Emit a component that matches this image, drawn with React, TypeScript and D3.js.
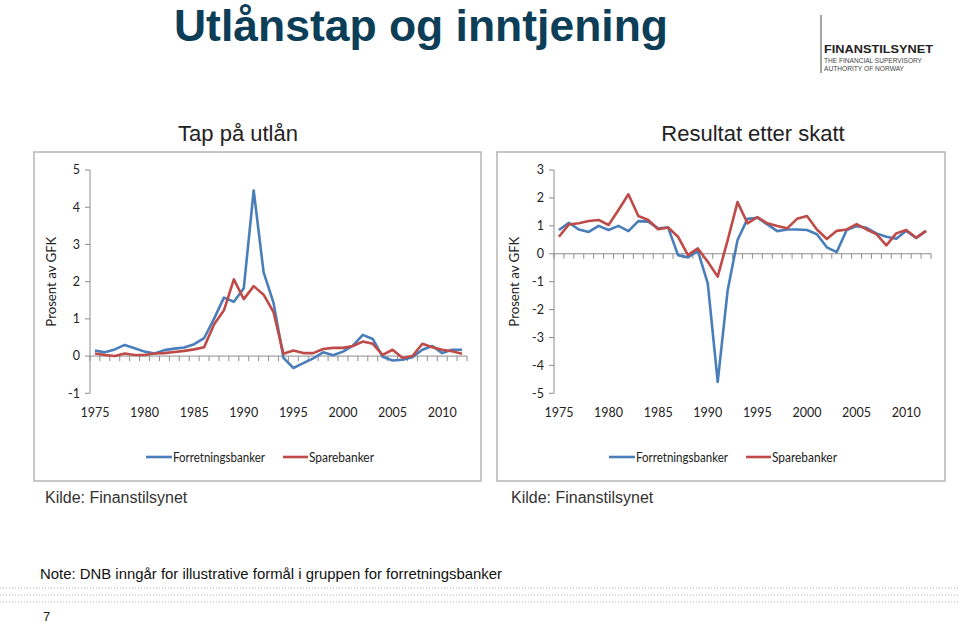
import React from "react";
import * as d3 from "d3";

const years: number[] = d3.range(1975, 2013);

const tapForretning: number[] = [
  0.15, 0.1, 0.18, 0.3, 0.21, 0.12, 0.07, 0.16, 0.2, 0.23, 0.32, 0.48, 1.0, 1.57, 1.46, 1.82, 4.45, 2.25, 1.43,
  -0.05, -0.32, -0.19, -0.06, 0.1, 0.02, 0.12, 0.28, 0.57, 0.46, -0.02, -0.12, -0.1, -0.03, 0.17, 0.27, 0.08, 0.17, 0.17,
];
const tapSparebank: number[] = [
  0.07, 0.03, 0.0, 0.07, 0.03, 0.03, 0.07, 0.08, 0.11, 0.14, 0.18, 0.24, 0.85, 1.23, 2.06, 1.53, 1.88, 1.65, 1.18,
  0.06, 0.15, 0.08, 0.08, 0.19, 0.22, 0.22, 0.27, 0.39, 0.33, 0.03, 0.17, -0.05, 0.0, 0.33, 0.24, 0.17, 0.13, 0.06,
];
const resForretning: number[] = [
  0.85, 1.11, 0.87, 0.78, 1.0, 0.85, 1.0, 0.81, 1.17, 1.15, 0.91, 0.94, -0.05, -0.13, 0.1, -1.06, -4.59, -1.32, 0.49,
  1.25, 1.29, 1.05, 0.81, 0.87, 0.87, 0.85, 0.7, 0.23, 0.06, 0.85, 0.99, 0.93, 0.73, 0.61, 0.54, 0.82, 0.57, 0.82,
];
const resSparebank: number[] = [
  0.61, 1.05, 1.09, 1.17, 1.21, 1.03, 1.57, 2.13, 1.35, 1.21, 0.88, 0.94, 0.61, -0.05, 0.19, -0.29, -0.82, 0.48, 1.85,
  1.09, 1.31, 1.09, 0.99, 0.91, 1.25, 1.35, 0.87, 0.53, 0.82, 0.87, 1.06, 0.87, 0.7, 0.3, 0.73, 0.85, 0.57, 0.82,
];

const tapTicks: number[] = [-1, 0, 1, 2, 3, 4, 5];
const resTicks: number[] = [-5, -4, -3, -2, -1, 0, 1, 2, 3];
const yearLabels: number[] = [1975, 1980, 1985, 1990, 1995, 2000, 2005, 2010];
const seriesNames: string[] = ["Forretningsbanker", "Sparebanker"];

const BLUE = "#4a7ebb";
const RED = "#be4b48";
const FONT = "Lato, 'Open Sans', sans-serif";
const ARIAL = "'Liberation Sans', Arial, sans-serif";

type PanelProps = {
  frame: [number, number, number, number];
  axisX: [number, number];
  yDomain: [number, number];
  ticks: number[];
  blue: number[];
  red: number[];
  labelX: number;
  legendX: number;
};

function Panel({ frame, axisX, yDomain, ticks, blue, red, labelX, legendX }: PanelProps) {
  const x = d3.scaleLinear().domain([1974.5, 2012.5]).range(axisX);
  const y = d3.scaleLinear().domain(yDomain).range([393.3, 170]);
  const line = d3
    .line<number>()
    .x((_, i) => x(years[i]))
    .y((d) => y(d));
  const y0 = y(0);
  const bounds = d3.range(1974.5, 2013.5, 1);
  return (
    <g>
      <rect x={frame[0]} y={frame[1]} width={frame[2] - frame[0]} height={frame[3] - frame[1]} fill="#fff" stroke="#b5b5b5" strokeWidth={1.5} />
      <line x1={axisX[0]} x2={axisX[0]} y1={y(yDomain[0])} y2={y(yDomain[1])} stroke="#8c8c8c" strokeWidth={1} />
      {ticks.map((t) => (
        <g key={t}>
          <line x1={axisX[0] - 5} x2={axisX[0]} y1={y(t)} y2={y(t)} stroke="#8c8c8c" />
          <text x={axisX[0] - 10} y={y(t)} dy="0.35em" textAnchor="end" fontSize={12.5} fontFamily={FONT} fill="#222">
            {t}
          </text>
        </g>
      ))}
      <line x1={axisX[0]} x2={axisX[1]} y1={y0} y2={y0} stroke="#8c8c8c" />
      {bounds.map((b) => (
        <line key={b} x1={x(b)} x2={x(b)} y1={y0} y2={y0 + 5} stroke="#8c8c8c" />
      ))}
      {yearLabels.map((yr) => (
        <text key={yr} x={x(yr)} y={417} textAnchor="middle" fontSize={12.5} fontFamily={FONT} fill="#222">
          {yr}
        </text>
      ))}
      <text
        transform={`translate(${labelX},${(y(yDomain[0]) + y(yDomain[1])) / 2}) rotate(-90)`}
        textAnchor="middle"
        fontSize={13}
        fontFamily={FONT}
        fill="#222"
        textLength={90}
        lengthAdjust="spacingAndGlyphs"
      >
        Prosent av GFK
      </text>
      <path d={line(blue) || ""} fill="none" stroke={BLUE} strokeWidth={2.6} strokeLinejoin="round" />
      <path d={line(red) || ""} fill="none" stroke={RED} strokeWidth={2.6} strokeLinejoin="round" />
      <line x1={legendX} x2={legendX + 26} y1={457} y2={457} stroke={BLUE} strokeWidth={2.6} />
      <text x={legendX + 27} y={461.5} fontSize={12.5} fontFamily={FONT} fill="#222" textLength={92} lengthAdjust="spacingAndGlyphs">
        {seriesNames[0]}
      </text>
      <line x1={legendX + 137} x2={legendX + 162} y1={457} y2={457} stroke={RED} strokeWidth={2.6} />
      <text x={legendX + 163} y={461.5} fontSize={12.5} fontFamily={FONT} fill="#222" textLength={65} lengthAdjust="spacingAndGlyphs">
        {seriesNames[1]}
      </text>
    </g>
  );
}

export default function App() {
  const dotRows = [588, 595, 602];
  return (
    <svg width={960} height={623} style={{ position: "absolute", left: 0, top: 0, background: "#fff" }}>
      <rect x={0} y={0} width={960} height={623} fill="#fff" />
      <text x={174} y={41} fontSize={45} fontWeight="bold" fontFamily={ARIAL} fill="#0d3e58" textLength={494} lengthAdjust="spacingAndGlyphs">
        Utlånstap og inntjening
      </text>
      <line x1={821} x2={821} y1={15} y2={73} stroke="#666" strokeWidth={1.2} />
      <text x={824} y={53} fontSize={11} fontWeight="bold" fontFamily={ARIAL} fill="#222" textLength={109} lengthAdjust="spacingAndGlyphs">
        FINANSTILSYNET
      </text>
      <text x={824} y={63} fontSize={7} fontFamily={ARIAL} fill="#444" textLength={98} lengthAdjust="spacingAndGlyphs">
        THE FINANCIAL SUPERVISORY
      </text>
      <text x={824} y={70.5} fontSize={7} fontFamily={ARIAL} fill="#444" textLength={80} lengthAdjust="spacingAndGlyphs">
        AUTHORITY OF NORWAY
      </text>

      <text x={238} y={141} textAnchor="middle" fontSize={22} fontFamily={ARIAL} fill="#222">
        Tap på utlån
      </text>
      <text x={753} y={141} textAnchor="middle" fontSize={22} fontFamily={ARIAL} fill="#222">
        Resultat etter skatt
      </text>

      <Panel frame={[34, 152, 481, 481]} axisX={[90, 467]} yDomain={[-1, 5]} ticks={tapTicks} blue={tapForretning} red={tapSparebank} labelX={56} legendX={146} />
      <Panel frame={[497, 152, 945, 481]} axisX={[554, 931]} yDomain={[-5, 3]} ticks={resTicks} blue={resForretning} red={resSparebank} labelX={519} legendX={609} />

      <text x={45} y={503} fontSize={16} fontFamily={ARIAL} fill="#333">
        Kilde: Finanstilsynet
      </text>
      <text x={511} y={503} fontSize={16} fontFamily={ARIAL} fill="#333">
        Kilde: Finanstilsynet
      </text>
      <text x={40} y={579} fontSize={15} fontFamily={ARIAL} fill="#111" textLength={462} lengthAdjust="spacingAndGlyphs">
        Note: DNB inngår for illustrative formål i gruppen for forretningsbanker
      </text>
      {dotRows.map((r) => (
        <line key={r} x1={0} x2={960} y1={r} y2={r} stroke="#a8a8a8" strokeWidth={1} strokeDasharray="1,2" />
      ))}
      <text x={43} y={621} fontSize={13} fontFamily={ARIAL} fill="#222">
        7
      </text>
    </svg>
  );
}
